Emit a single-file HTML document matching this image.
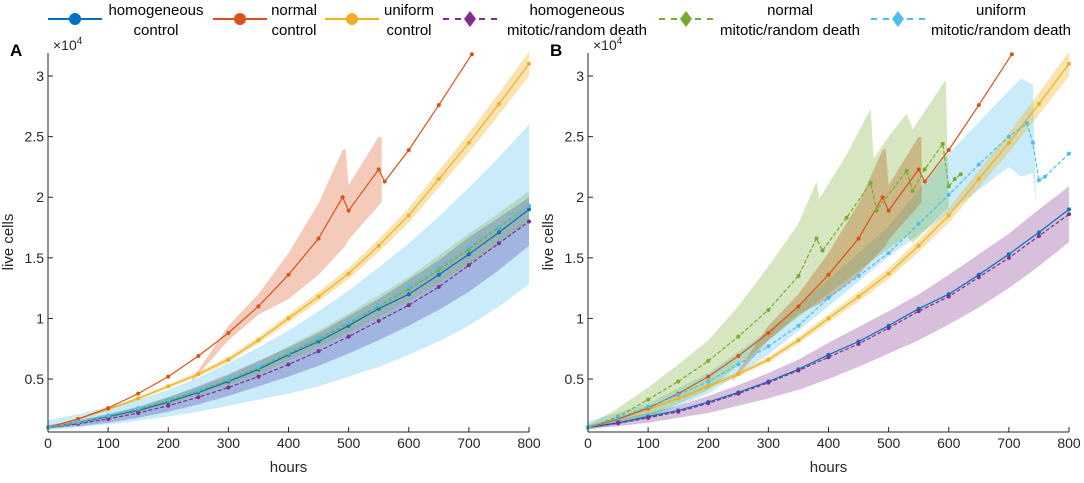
<!DOCTYPE html>
<html><head><meta charset="utf-8"><style>
body{margin:0;background:#fff;font-family:"Liberation Sans",sans-serif;}
svg text{font-family:"Liberation Sans",sans-serif;}
</style></head><body>
<svg id="fig" width="1084" height="478" viewBox="0 0 1084 478" xmlns="http://www.w3.org/2000/svg"></svg>
<script>
const hours50=[0,50,100,150,200,250,300,350,400,450,500,550,600,650,700,750,800];
const blueCtrl=[1000,1400,1900,2400,3100,3900,4800,5800,7000,8100,9400,10800,12000,13600,15300,17100,19000];
const purpleA=[1000,1300,1700,2200,2800,3500,4300,5200,6200,7300,8500,9800,11100,12600,14400,16200,18000];
const purpleB=[1000,1350,1800,2300,3000,3800,4700,5700,6800,7900,9200,10600,11800,13400,15000,16800,18600];
const purpleBandAHi=[1200,1600,2100,2700,3500,4400,5400,6500,7600,8800,10200,11600,13200,14800,16700,18300,20000];
const purpleBandALo=[900,1100,1400,1800,2300,2900,3600,4400,5200,6100,7100,8200,9400,10700,12200,14000,16000];
const purpleBandBHi=[1200,1700,2200,2800,3600,4500,5500,6600,8000,9300,10600,12000,13600,15300,17000,19000,20900];
const purpleBandBLo=[900,1100,1400,1800,2200,2800,3400,4100,5000,6000,7100,8200,9500,10900,12500,14300,16300];
const yellowCtrl=[1000,1700,2500,3400,4400,5400,6600,8200,10000,11800,13700,16000,18500,21500,24500,27700,31000];
const yellowHi=[1050,1780,2600,3530,4560,5600,6840,8480,10330,12200,14150,16520,19100,22200,25300,28600,32000];
const yellowLo=[950,1620,2400,3270,4240,5200,6360,7920,9670,11400,13250,15480,17900,20800,23700,26800,30000];
const greenA=[1000,1400,1950,2500,3200,4000,4900,5900,7100,8300,9600,11000,12400,14000,15700,17500,19300];
const greenAHi=[1100,1550,2100,2700,3500,4300,5300,6400,7700,9000,10400,11900,13400,15200,17000,18700,20500];
const greenALo=[900,1250,1750,2300,2900,3700,4500,5400,6500,7600,8800,10100,11400,12900,14500,16200,18000];
const cyanA=[1000,1450,2000,2600,3300,4100,5000,6000,7200,8400,9700,11100,12600,14200,15900,17600,19300];
const cyanAHi=[1600,2100,2700,3300,4100,5100,6300,7600,9000,10600,12300,14200,16200,18400,20800,23300,26000];
const cyanALo=[800,1000,1250,1550,1900,2300,2800,3300,3800,4400,5200,6000,7000,8100,9400,11000,12800];
const redX=[0,50,100,150,200,250,300,350,400,450,490,500,550,560,600,650,705];
const redY=[1000,1700,2600,3800,5200,6900,8800,11000,13600,16600,20000,18900,22300,21300,23900,27600,31800];
const redBandHiX=[240,300,350,400,450,490,495,500,550,555];
const redBandHi=[5000,9400,12000,15400,19500,23900,24000,21000,25000,24900];
const redBandLoX=[240,300,350,400,450,495,500,550,555];
const redBandLo=[4800,8200,10300,11600,13600,16000,16500,19300,19600];
const greenBX=[0,50,100,150,200,250,300,350,380,390,430,470,480,530,540,560,590,600,610,620];
const greenBY=[1000,1900,3300,4800,6500,8500,10700,13500,16600,15600,18300,21200,18900,22200,20500,22300,24400,20900,21500,21900];
const greenBHiX=[0,50,100,150,200,250,300,350,380,385,430,470,475,500,530,540,595,600];
const greenBHi=[1200,2600,4300,6200,8200,11000,14300,17800,21300,19900,23500,27300,23200,25000,26900,25600,29700,19200];
const greenBLoX=[0,100,200,300,380,470,530,540,600];
const greenBLo=[800,1800,4100,8200,11300,14700,16800,16200,19200];
const cyanBX=[0,50,100,150,200,250,300,350,400,450,500,550,600,650,700,730,740,750,760,800];
const cyanBY=[1000,1800,2700,3700,4800,6200,7700,9400,11700,13500,15400,17800,20200,22700,25000,26100,24500,21400,21700,23600];
const cyanBHiX=[0,100,200,300,400,500,600,700,720,740,745];
const cyanBHi=[1500,3000,5500,9000,13200,17600,23600,28800,29800,29300,19500];
const cyanBLoX=[0,100,200,300,400,500,600,700,720,740,745];
const cyanBLo=[800,1700,3800,7000,11000,15100,18700,22500,21700,22000,19500];
const yTicks=[5000,10000,15000,20000,25000,30000];
const yTickLabels=["0.5","1","1.5","2","2.5","3"];
const xTicks=[0,100,200,300,400,500,600,700,800];

const NS="http://www.w3.org/2000/svg";
const svg=document.getElementById('fig');
function mk(tag,attrs,parent){const e=document.createElementNS(NS,tag);for(const k in attrs)e.setAttribute(k,attrs[k]);(parent||svg).appendChild(e);return e;}
const C={blue:"#0072BD",red:"#D95319",yellow:"#EDB120",purple:"#7E2F8E",green:"#77AC30",cyan:"#4DBEEE"};
const plotTop=53,plotBot=432,ymin=630,ymax=31900;
function yS(v){return plotBot-(v-ymin)/(ymax-ymin)*(plotBot-plotTop);}

function panel(x0,x1,name){
  const g=mk('g',{});
  
  
  const xS=h=>x0+h/800*(x1-x0);
  const pts=(xs,ys)=>xs.map((h,i)=>xS(h).toFixed(1)+','+yS(ys[i]).toFixed(1)).join(' ');
  function band(hx,hy,lx,ly,col,nm,op){
    const p=mk('polygon',{points:pts(hx,hy)+' '+pts(lx.slice().reverse(),ly.slice().reverse()),fill:col,'fill-opacity':op||0.3,stroke:'none'},g);
    
    
  }
  function line(xs,ys,col,dash,nm){
    const l=mk('polyline',{points:pts(xs,ys),fill:'none',stroke:col,'stroke-width':1.2,'stroke-dasharray':dash?'4,2':'none'},g);
    
    
    xs.forEach((h,i)=>{const c=mk('circle',{cx:xS(h),cy:yS(ys[i]),r:2,fill:col},g);
      
      });
  }
  return {g,xS,band,line};
}
function axes(P,x0,x1,letter){
  const g=P.g;
  mk('line',{x1:x0,y1:plotTop,x2:x0,y2:plotBot,stroke:'#262626','stroke-width':1},g);
  mk('line',{x1:x0,y1:plotBot,x2:x1,y2:plotBot,stroke:'#262626','stroke-width':1},g);
  yTicks.forEach((v,i)=>{const y=yS(v);mk('line',{x1:x0,y1:y,x2:x0+5,y2:y,stroke:'#262626'},g);
    const t=mk('text',{x:x0-4,y:y+5,'text-anchor':'end','font-size':14,fill:'#262626'},g);t.textContent=yTickLabels[i];
    
    });
  xTicks.forEach(h=>{const x=P.xS(h);mk('line',{x1:x,y1:plotBot,x2:x,y2:plotBot-5,stroke:'#262626'},g);
    const t=mk('text',{x:x,y:plotBot+16,'text-anchor':'middle','font-size':14,fill:'#262626'},g);t.textContent=h;
    
    });
  let t=mk('text',{x:(x0+x1)/2,y:472,'text-anchor':'middle','font-size':15,fill:'#262626'},g);t.textContent='hours';
  
  
  t=mk('text',{x:0,y:0,transform:`translate(${x0-35},242) rotate(-90)`,'text-anchor':'middle','font-size':15,fill:'#262626'},g);t.textContent='live cells';
  
  
  t=mk('text',{x:x0+5,y:50,'font-size':14,fill:'#262626'},g);
  t.appendChild(document.createTextNode('×10'));
  const sup=mk('tspan',{dy:-6,'font-size':10},t);sup.textContent='4';
  
  
  t=mk('text',{x:x0-38,y:56,'font-size':17,'font-weight':'bold',fill:'#000'},g);t.textContent=letter;
  
  
}
// Panel A
const A=panel(48,529,'panel-a');
A.band(hours50,cyanAHi,hours50,cyanALo,C.cyan,'cyan-band-a',0.3);
A.band(hours50,purpleBandAHi,hours50,purpleBandALo,'#5a4fb0','purple-band-a',0.35);
A.band(hours50,greenAHi,hours50,greenALo,C.green,'green-band-a',0.25);
A.band(redBandHiX,redBandHi,redBandLoX,redBandLo,C.red,'red-band-a',0.3);
A.band(hours50,yellowHi,hours50,yellowLo,C.yellow,'yellow-band-a',0.35);
A.line(hours50,blueCtrl,C.blue,false,'homogeneous-control-a');
A.line(hours50,yellowCtrl,C.yellow,false,'uniform-control-a');
A.line(redX,redY,C.red,false,'normal-control-a');
A.line(hours50,purpleA,C.purple,true,'homogeneous-mitotic-a');
A.line(hours50,greenA,C.green,true,'normal-mitotic-a');
A.line(hours50,cyanA,C.cyan,true,'uniform-mitotic-a');
axes(A,48,529,'A');
// Panel B
const B=panel(588,1069,'panel-b');
B.band(hours50,purpleBandBHi,hours50,purpleBandBLo,C.purple,'purple-band-b',0.3);
B.band(cyanBHiX,cyanBHi,cyanBLoX,cyanBLo,C.cyan,'cyan-band-b',0.3);
B.band(greenBHiX,greenBHi,greenBLoX,greenBLo,C.green,'green-band-b',0.3);
B.band(redBandHiX,redBandHi,redBandLoX,redBandLo,'#b5651d','red-band-b',0.35);
B.band(hours50,yellowHi,hours50,yellowLo,C.yellow,'yellow-band-b',0.35);
B.line(hours50,blueCtrl,C.blue,false,'homogeneous-control-b');
B.line(hours50,purpleB,C.purple,true,'homogeneous-mitotic-b');
B.line(hours50,yellowCtrl,C.yellow,false,'uniform-control-b');
B.line(redX,redY,C.red,false,'normal-control-b');
B.line(greenBX,greenBY,C.green,true,'normal-mitotic-b');
B.line(cyanBX,cyanBY,C.cyan,true,'uniform-mitotic-b');
axes(B,588,1069,'B');
// Legend: [line1, line2, color, dashed, lineStartX, textCenterX]
const legItems=[["homogeneous","control",C.blue,false,48,156],["normal","control",C.red,false,213,294],["uniform","control",C.yellow,false,325,409],["homogeneous","mitotic/random death",C.purple,true,443,577],["normal","mitotic/random death",C.green,true,659,790],["uniform","mitotic/random death",C.cyan,true,871,1001]];
const LG=mk('g',{});


legItems.forEach(it=>{
  const [a,b,col,dash,x,cx]=it;
  const g=mk('g',{},LG);
  
  
  mk('line',{x1:x,y1:19,x2:x+54,y2:19,stroke:col,'stroke-width':2,'stroke-dasharray':dash?'6,6':'none'},g);
  if(dash) mk('polygon',{points:`${x+27},11 ${x+33},19 ${x+27},27 ${x+21},19`,fill:col},g);
  else mk('circle',{cx:x+27,cy:19,r:6,fill:col},g);
  let t=mk('text',{x:cx,y:15,'text-anchor':'middle','font-size':15,fill:'#000'},g);t.textContent=a;
  t=mk('text',{x:cx,y:35,'text-anchor':'middle','font-size':15,fill:'#000'},g);t.textContent=b;
});
</script>
</body></html>
